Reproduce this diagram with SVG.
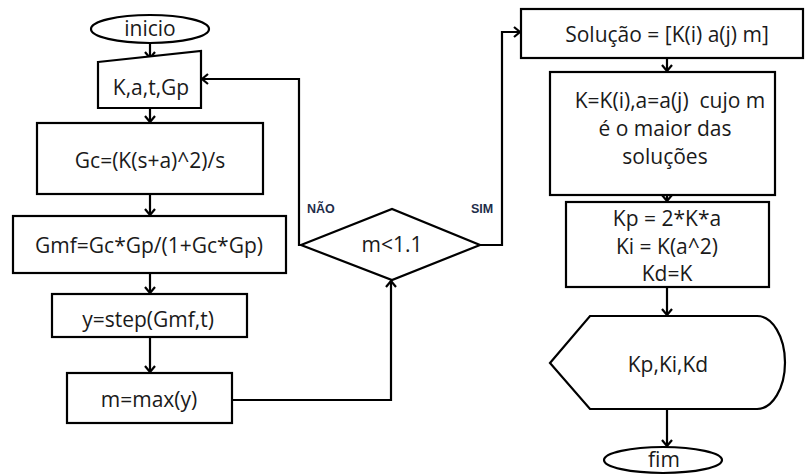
<svg xmlns="http://www.w3.org/2000/svg" width="805" height="475" viewBox="0 0 805 475">
<style>
.s{fill:#fff;stroke:#000;stroke-width:2.2}
.t{font-family:"Open Sans","Noto Sans",sans-serif;font-size:21px;fill:#1a1a1a;text-anchor:middle}
.l{font-family:"Liberation Sans",Arial,sans-serif;font-size:12.5px;font-weight:bold;fill:#1f2d4a}
.c{fill:none;stroke:#000;stroke-width:2.2;marker-end:url(#a)}
</style>
<defs>
<marker id="a" markerWidth="12" markerHeight="12" refX="9" refY="6" orient="auto" markerUnits="userSpaceOnUse">
<path d="M3,1 L9,6 L3,11" fill="none" stroke="#000" stroke-width="2.2"/>
</marker>
</defs>
<rect width="805" height="475" fill="#fff"/>
<g id="connectors">
<path class="c" d="M150,43 V58"/>
<path class="c" d="M150,108 V122"/>
<path class="c" d="M150,194 V215"/>
<path class="c" d="M150,273 V293"/>
<path class="c" d="M150,337 V372"/>
<path class="c" d="M232,400 H391 V281"/>
<path class="c" d="M301,245 H299 V79 H202"/>
<path class="c" d="M480,245 H502 V32 H520"/>
<path class="c" d="M667,58 V71"/>
<path class="c" d="M667,195 V201"/>
<path class="c" d="M667,287 V315"/>
<path class="c" d="M667,409 V446"/>
<text class="l" x="307" y="213">NÃO</text>
<text class="l" x="471" y="213">SIM</text>
</g>
<g id="inicio">
<ellipse class="s" cx="150" cy="29" rx="59" ry="14"/>
<text class="t" x="150" y="36">inicio</text>
</g>
<g id="entrada">
<polygon class="s" points="98,62 201,51 201,108 98,108"/>
<text class="t" x="151" y="95">K,a,t,Gp</text>
</g>
<g id="gc">
<rect class="s" x="37" y="123" width="226" height="71"/>
<text class="t" x="150" y="168">Gc=(K(s+a)^2)/s</text>
</g>
<g id="gmf">
<rect class="s" x="13" y="216" width="273" height="57"/>
<text class="t" x="149" y="253">Gmf=Gc*Gp/(1+Gc*Gp)</text>
</g>
<g id="step">
<rect class="s" x="52" y="294" width="195" height="43"/>
<text class="t" x="148" y="327">y=step(Gmf,t)</text>
</g>
<g id="max">
<rect class="s" x="67" y="373" width="165" height="50"/>
<text class="t" x="149" y="407">m=max(y)</text>
</g>
<g id="decisao">
<polygon class="s" points="301,245 392,209 480,245 392,280"/>
<text class="t" x="392" y="252">m&lt;1.1</text>
</g>
<g id="solucao">
<rect class="s" x="521" y="9" width="282" height="49"/>
<text class="t" x="667" y="42">Solução = [K(i) a(j) m]</text>
</g>
<g id="maior">
<rect class="s" x="550" y="72" width="225" height="123"/>
<text class="t" x="670" y="108" xml:space="preserve">K=K(i),a=a(j)  cujo m</text>
<text class="t" x="665" y="136">é o maior das</text>
<text class="t" x="665" y="164">soluções</text>
</g>
<g id="ganhos">
<rect class="s" x="566" y="202" width="203" height="85"/>
<text class="t" x="667" y="226">Kp = 2*K*a</text>
<text class="t" x="667" y="254">Ki = K(a^2)</text>
<text class="t" x="667" y="281">Kd=K</text>
</g>
<g id="exibir">
<path class="s" d="M550,363 L590,316 H757 A28,46.5 0 0 1 757,409 H590 Z"/>
<text class="t" x="668" y="372">Kp,Ki,Kd</text>
</g>
<g id="fim">
<ellipse class="s" cx="663" cy="460" rx="59" ry="13"/>
<text class="t" x="664" y="467">fim</text>
</g>
</svg>
